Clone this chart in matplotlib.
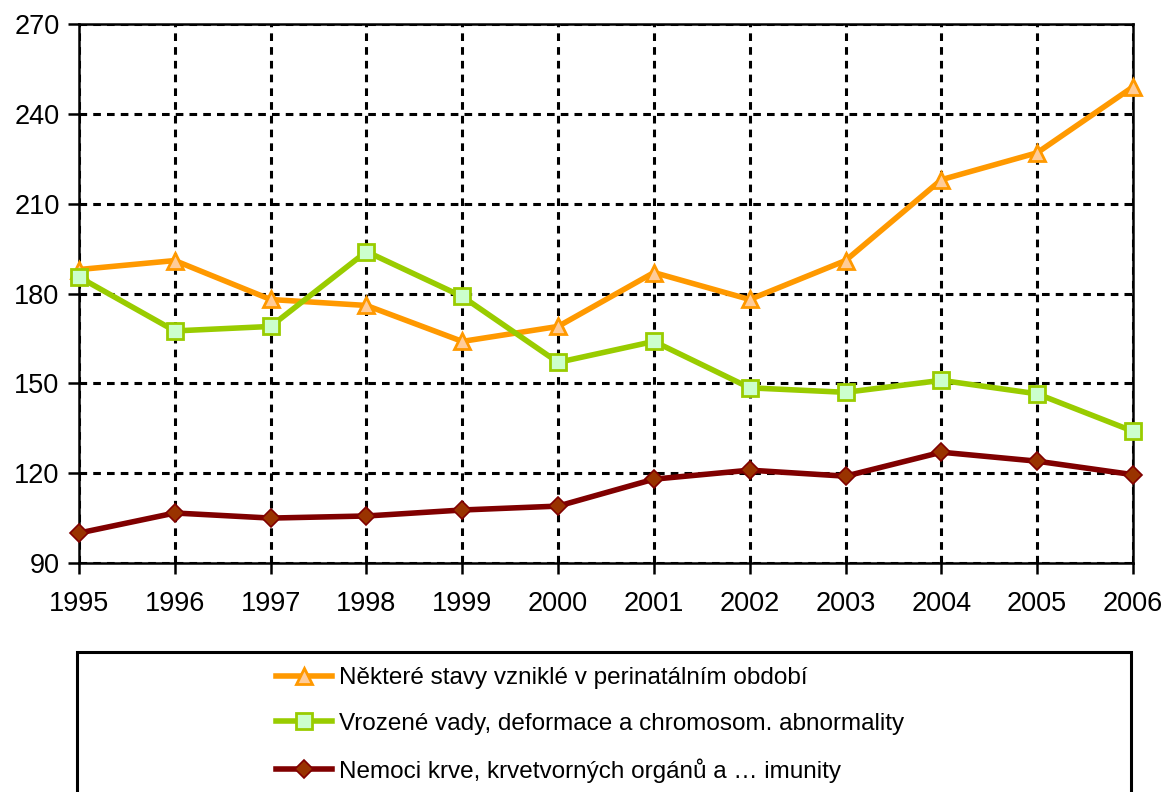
import matplotlib
matplotlib.use("Agg")
import matplotlib.pyplot as plt
from matplotlib.patches import Rectangle

years = [1995, 1996, 1997, 1998, 1999, 2000, 2001, 2002, 2003, 2004, 2005, 2006]
perinatal = [188, 191, 178, 176, 164, 169, 187, 178, 191, 218, 227, 249]
vrozene = [185.5, 167.5, 169, 194, 179, 157, 164, 148.5, 147, 151, 146.5, 134]
krev = [100, 106.7, 105, 105.7, 107.7, 109, 118, 121, 119, 127, 124, 119.5]
labels = ["Některé stavy vzniklé v perinatálním období",
          "Vrozené vady, deformace a chromosom. abnormality",
          "Nemoci krve, krvetvorných orgánů a … imunity"]
yticks = [90, 120, 150, 180, 210, 240, 270]

plt.rcParams['font.family'] = ['Liberation Sans', 'DejaVu Sans']

fig = plt.figure(figsize=(11.63, 7.92), dpi=100)
ax = fig.add_axes([79/1163, 1-563/792, (1133-79)/1163, (563-24)/792])

ax.plot(years, perinatal, color='#FF9900', lw=4, marker='^', ms=12,
        mfc='#FFCC99', mec='#FF9900', mew=2, label=labels[0], clip_on=False, zorder=5)
ax.plot(years, vrozene, color='#99CC00', lw=4, marker='s', ms=11,
        mfc='#CCFFCC', mec='#99CC00', mew=2, label=labels[1], clip_on=False, zorder=5)
ax.plot(years, krev, color='#800000', lw=4, marker='D', ms=9,
        mfc='#993300', mec='#800000', mew=1.2, label=labels[2], clip_on=False, zorder=5)

ax.set_xlim(1995, 2006)
ax.set_ylim(90, 270)
ax.set_xticks(years)
ax.set_yticks(yticks)
ax.tick_params(axis='both', labelsize=19.5, length=8, width=1.8, direction='out', color='black')
ax.tick_params(axis='x', pad=12)
ax.tick_params(axis='y', pad=6)
ax.grid(True, color='black', linestyle=(0, (2.5, 2)), lw=2.2)
for s in ax.spines.values():
    s.set_color('black')
    s.set_linewidth(1.8)

fig.patches.append(Rectangle((77/1163, -0.05), (1131-77)/1163, 0.05 + 1-652/792,
                             transform=fig.transFigure, fill=False, ec='black', lw=2.2,
                             clip_on=False))

leg = fig.legend(loc='upper left', bbox_to_anchor=(276/1163, 1-667/792), frameon=False,
                 fontsize=17.5, handlelength=2.3, handletextpad=0.3, labelspacing=0.97,
                 borderpad=0, borderaxespad=0)

fig.savefig('out.png', dpi=100)
